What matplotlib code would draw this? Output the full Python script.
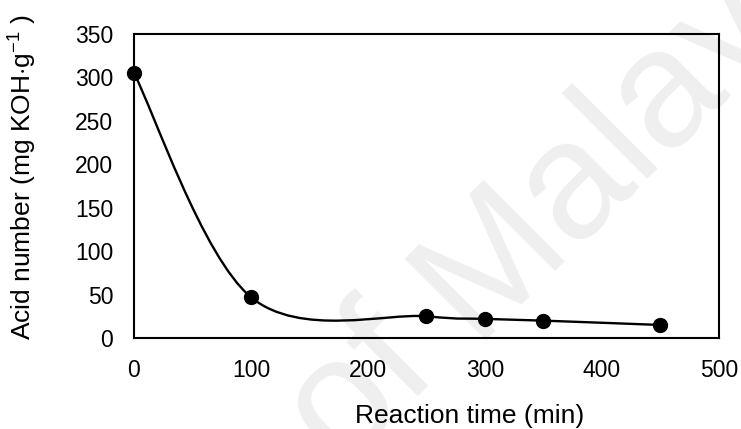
import numpy as np
import matplotlib.pyplot as plt
from matplotlib.path import Path
from matplotlib.patches import PathPatch

plt.rcParams['font.family'] = ['Liberation Sans', 'DejaVu Sans']
plt.rcParams['mathtext.fontset'] = 'custom'
plt.rcParams['mathtext.rm'] = 'Liberation Sans'
plt.rcParams['mathtext.it'] = 'Liberation Sans:italic'

# reaction time (min) vs acid number (mg KOH/g)
time_min = [0, 100, 250, 300, 350, 450]
acid_number = [305, 47, 25, 22, 20, 15]


def smooth_path(pts, k=1.0 / 6):
    # spreadsheet-style smoothed line: cubic bezier through every point
    pts = np.asarray(pts, dtype=float)
    ext = np.vstack([pts[0], pts, pts[-1]])
    verts = [pts[0]]
    codes = [Path.MOVETO]
    for i in range(1, len(ext) - 2):
        p0, p1, p2, p3 = ext[i - 1], ext[i], ext[i + 1], ext[i + 2]
        c1 = p1 + (p2 - p0) * k
        c2 = p2 - (p3 - p1) * k
        verts += [c1, c2, p2]
        codes += [Path.CURVE4] * 3
    return Path(np.array(verts), codes)


fig = plt.figure(figsize=(7.41, 4.29), dpi=100)
ax = fig.add_axes([0.1808, 0.2121, 0.7895, 0.7086])
ax.set_xlim(0, 500)
ax.set_ylim(0, 350)
ax.patch.set_alpha(0)

# faint watermark behind the axes
wm = dict(fontsize=120, color='#efefef', rotation=45, rotation_mode='anchor',
          va='baseline', zorder=-1)
fig.text(0.5945, 0.1315, 'University of', ha='right', **wm)
fig.text(0.6383, 0.2075, 'Malaya', ha='left', **wm)

# build the curve in pixel space so the smoothing follows the drawn shape
pix = ax.transData.transform(np.column_stack([time_min, acid_number]))
curve = smooth_path(pix)
ax.add_patch(PathPatch(curve, transform=None, fill=False, edgecolor='black',
                       linewidth=1.7, zorder=2, clip_on=False))
ax.plot(time_min, acid_number, 'o', color='black', markersize=10, zorder=3,
        clip_on=False)

ax.set_xticks(np.arange(0, 501, 100))
ax.set_yticks(np.arange(0, 351, 50))
ax.tick_params(length=0, labelsize=16.5, pad=15)
for s in ax.spines.values():
    s.set_linewidth(1.5)

ax.set_xlabel('Reaction time (min)', fontsize=19, va='baseline')
ax.xaxis.set_label_coords(0.5744, -0.2796)
ax.set_ylabel(r'Acid number (mg KOH$\cdot$g$^{-1}$ )', fontsize=19,
              va='baseline')
ax.yaxis.set_label_coords(-0.1744, 0.528)

fig.savefig('out.png', dpi=100)
